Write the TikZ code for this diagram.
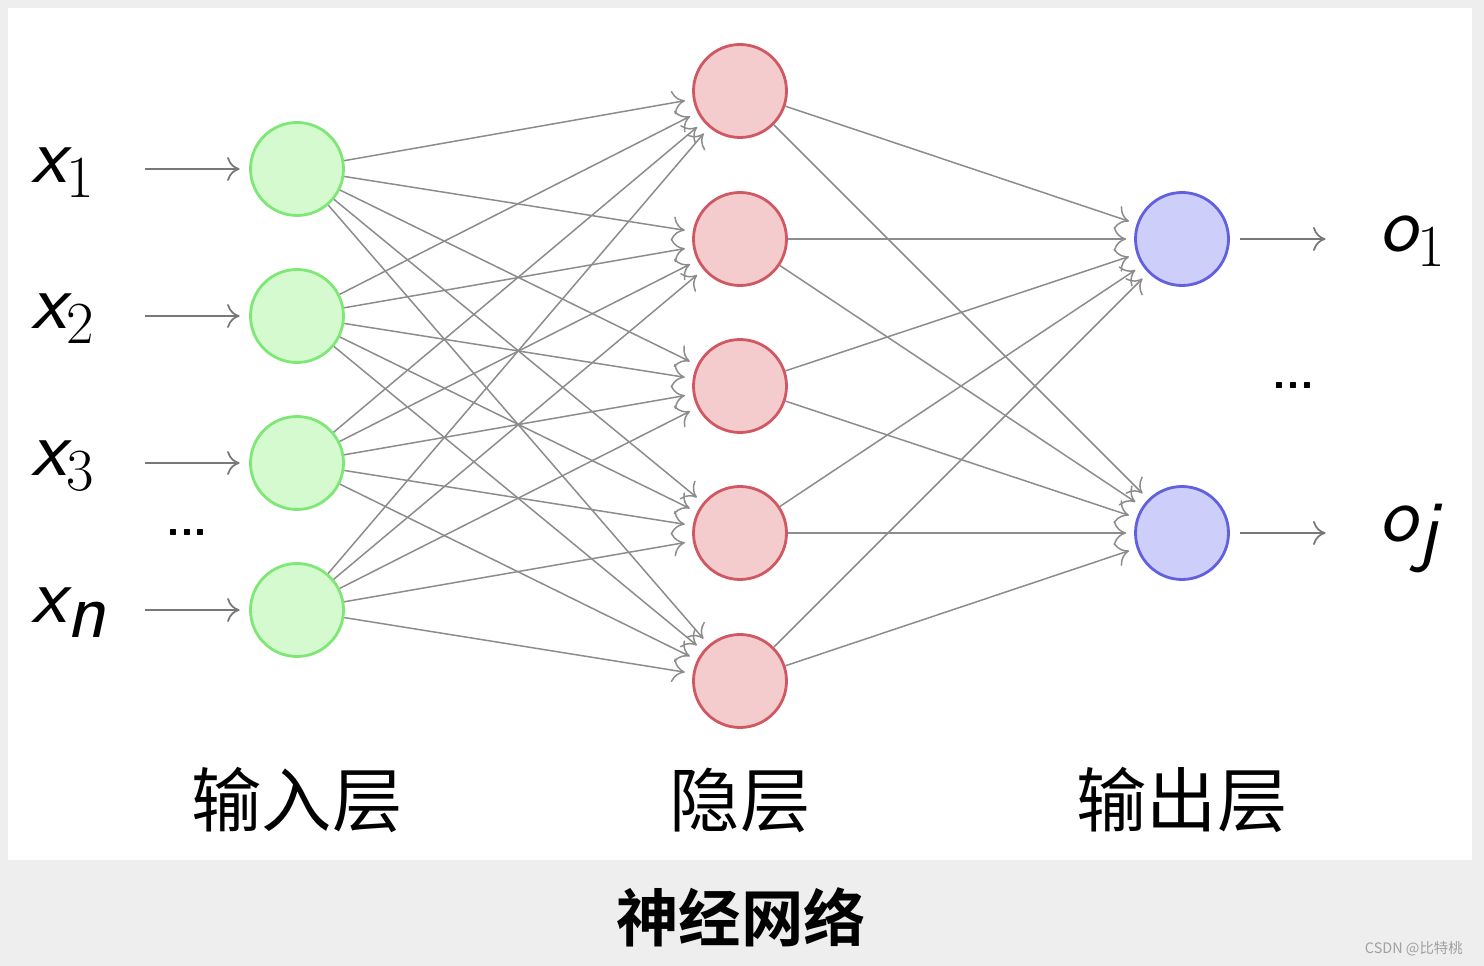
\documentclass[tikz,border=0pt]{standalone}
\usepackage{fontspec}
\newfontfamily\cjk{Noto Sans CJK SC}
\newfontfamily\cjkbold{Noto Sans CJK SC Bold}
\definecolor{nnbg}{RGB}{238,238,238}
\definecolor{nngreen}{RGB}{125,232,118}
\definecolor{nngreenfill}{RGB}{214,250,208}
\definecolor{nnred}{RGB}{208,88,98}
\definecolor{nnredfill}{RGB}{244,204,206}
\definecolor{nnblue}{RGB}{96,96,224}
\definecolor{nnbluefill}{RGB}{206,206,250}
\definecolor{nnedge}{RGB}{140,140,140}
\definecolor{nnarrow}{RGB}{120,120,120}
\definecolor{nnmark}{RGB}{160,160,160}
\usetikzlibrary{arrows.meta}
\newcommand{\vname}[1]{{\sffamily\itshape #1}}
\newcommand{\digsub}[1]{\raisebox{-8pt}{\fontsize{34}{40}\selectfont #1}}
\newcommand{\letsub}[1]{\raisebox{-8pt}{\sffamily\itshape #1}}

\begin{document}
\begin{tikzpicture}[x=0.2mm,y=-0.2mm,
  neuron/.style={circle,line width=1.6pt,minimum size=18.6mm,inner sep=0pt},
  innode/.style={neuron,draw=nngreen,fill=nngreenfill},
  hidnode/.style={neuron,draw=nnred,fill=nnredfill},
  outnode/.style={neuron,draw=nnblue,fill=nnbluefill},
  link/.style={nnedge,line width=0.85pt,-{To[length=2.5mm,width=4.8mm]},shorten >=1.6mm},
  inlink/.style={link,draw=nnarrow,line width=1pt,shorten >=1.9mm},
  varlabel/.style={font=\fontsize{46}{54}\selectfont,inner sep=0pt},
  dots/.style={font=\sffamily\bfseries\fontsize{26}{30}\selectfont,inner sep=0pt},
  layer/.style={font=\cjk\fontsize{40}{46}\selectfont}]
  % Background and white panel
  \fill[nnbg] (0,0) rectangle (1484,966);
  \fill[white] (8,8) rectangle (1472,860);
  % Input layer
  \node[innode] (i1) at (297,169) {};
  \node[innode] (i2) at (297,316) {};
  \node[innode] (i3) at (297,463) {};
  \node[innode] (i4) at (297,610) {};
  \node[varlabel,anchor=base west] (lx1) at (31,183) {\vname{x}\digsub{1}};
  \node[varlabel,anchor=base west] (lx2) at (31,329) {\vname{x}\digsub{2}};
  \node[varlabel,anchor=base west] (lx3) at (31,476) {\vname{x}\digsub{3}};
  \node[varlabel,anchor=base west] (lx4) at (31,623) {\vname{x}\letsub{n}};
  \node[dots] (dx) at (187,533) {...};
  \coordinate (s1) at (145,169); \coordinate (s2) at (145,316);
  \coordinate (s3) at (145,463); \coordinate (s4) at (145,610);
  \draw[inlink] (s1) -- (i1); \draw[inlink] (s2) -- (i2);
  \draw[inlink] (s3) -- (i3); \draw[inlink] (s4) -- (i4);
  % Hidden layer
  \node[hidnode] (h1) at (740,91) {};
  \node[hidnode] (h2) at (740,239) {};
  \node[hidnode] (h3) at (740,386) {};
  \node[hidnode] (h4) at (740,533) {};
  \node[hidnode] (h5) at (740,681) {};
  % Output layer
  \node[outnode] (o1) at (1182,239) {};
  \node[outnode] (o2) at (1182,533) {};
  \node[varlabel,anchor=base west] (lo1) at (1379,252) {\vname{o}\digsub{1}};
  \node[varlabel,anchor=base west] (lo2) at (1379,542) {\vname{o}\letsub{j}};
  \node[dots] (do) at (1293,386) {...};
  \coordinate (t1) at (1335,239); \coordinate (t2) at (1335,533);
  \draw[inlink,shorten <=2mm] (o1) -- (t1); \draw[inlink,shorten <=2mm] (o2) -- (t2);
  % Input -> hidden
  \draw[link] (i1) -- (h1); \draw[link] (i1) -- (h2); \draw[link] (i1) -- (h3); \draw[link] (i1) -- (h4); \draw[link] (i1) -- (h5);
  \draw[link] (i2) -- (h1); \draw[link] (i2) -- (h2); \draw[link] (i2) -- (h3); \draw[link] (i2) -- (h4); \draw[link] (i2) -- (h5);
  \draw[link] (i3) -- (h1); \draw[link] (i3) -- (h2); \draw[link] (i3) -- (h3); \draw[link] (i3) -- (h4); \draw[link] (i3) -- (h5);
  \draw[link] (i4) -- (h1); \draw[link] (i4) -- (h2); \draw[link] (i4) -- (h3); \draw[link] (i4) -- (h4); \draw[link] (i4) -- (h5);
  % Hidden -> output
  \draw[link] (h1) -- (o1); \draw[link] (h1) -- (o2);
  \draw[link] (h2) -- (o1); \draw[link] (h2) -- (o2);
  \draw[link] (h3) -- (o1); \draw[link] (h3) -- (o2);
  \draw[link] (h4) -- (o1); \draw[link] (h4) -- (o2);
  \draw[link] (h5) -- (o1); \draw[link] (h5) -- (o2);
  % Layer names and caption
  \node[layer] (ll1) at (297,800) {输入层};
  \node[layer] (ll2) at (740,800) {隐层};
  \node[layer] (ll3) at (1182,800) {输出层};
  \node[font=\cjkbold\fontsize{35.5}{40}\selectfont] (cap) at (741,917) {神经网络};
  \node[font=\cjk\fontsize{8.2}{10}\selectfont,text=nnmark,anchor=east] (mark) at (1469,949) {CSDN @比特桃};
\end{tikzpicture}
\end{document}
